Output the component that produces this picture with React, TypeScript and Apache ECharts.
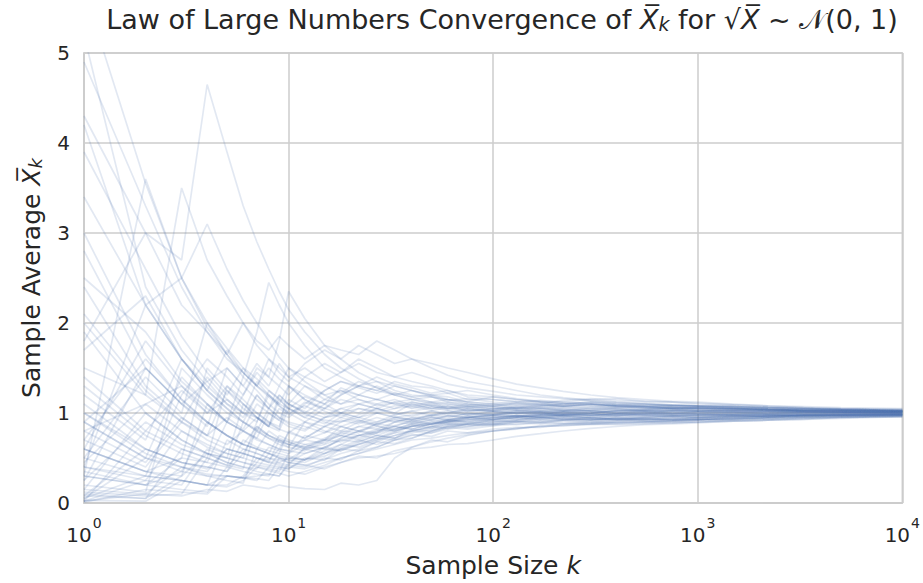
import React, { useEffect, useRef } from "react";
import * as echarts from "echarts";

const K = [1, 2, 3, 4, 5, 6, 7, 8, 9, 10, 12, 15, 18, 22, 27, 33, 40, 50, 60, 75, 100, 130, 170, 220, 300, 400, 550, 750, 1000, 1500, 2200, 3300, 5000, 10000];

const run01 = [5.7, 3.55, 2.5, 2.0, 1.72, 1.5, 1.38, 1.25, 1.16, 1.1, 1.02, 0.95, 0.98, 0.92, 0.88, 0.93, 0.9, 0.95, 0.92, 0.97, 0.95, 0.97, 0.95, 0.96, 0.94, 0.93, 0.92, 0.93, 0.93, 0.94, 0.95, 0.96, 0.96, 0.97];
const run02 = [5.2, 2.4, 1.7, 1.35, 1.5, 1.3, 1.15, 1.05, 1.2, 1.1, 1.0, 0.9, 0.85, 0.92, 0.86, 0.8, 0.85, 0.88, 0.92, 0.9, 0.94, 0.97, 0.95, 0.98, 0.97, 0.99, 1.02, 1.03, 1.05, 1.04, 1.04, 1.03, 1.03, 1.02];
const run03 = [4.3, 3.0, 2.7, 4.65, 3.9, 3.3, 2.9, 2.6, 2.35, 2.15, 1.9, 1.65, 1.5, 1.38, 1.28, 1.2, 1.15, 1.12, 1.1, 1.08, 1.05, 1.06, 1.08, 1.1, 1.12, 1.11, 1.1, 1.09, 1.08, 1.06, 1.05, 1.05, 1.04, 1.03];
const run04 = [4.9, 3.3, 2.4, 1.9, 1.6, 1.45, 1.3, 1.5, 1.38, 1.3, 1.15, 1.02, 0.95, 1.05, 1.0, 0.95, 0.98, 1.02, 1.0, 1.05, 1.02, 1.0, 1.01, 0.96, 0.94, 0.93, 0.91, 0.9, 0.9, 0.92, 0.93, 0.94, 0.95, 0.96];
const run05 = [4.2, 2.2, 2.5, 3.1, 2.6, 2.25, 2.0, 1.8, 1.62, 1.5, 1.35, 1.2, 1.25, 1.15, 1.1, 1.05, 1.08, 1.03, 1.06, 1.02, 1.04, 1.08, 1.1, 1.14, 1.16, 1.14, 1.13, 1.12, 1.1, 1.09, 1.07, 1.06, 1.05, 1.04];
const run06 = [2.0, 1.2, 0.9, 0.75, 0.65, 0.8, 0.72, 0.65, 0.6, 0.58, 0.55, 0.62, 0.7, 0.75, 0.78, 0.82, 0.86, 0.9, 0.88, 0.92, 0.95, 0.93, 0.96, 0.92, 0.9, 0.91, 0.93, 0.94, 0.95, 0.96, 0.97, 0.97, 0.98, 0.98];
const run07 = [0.3, 3.6, 2.5, 1.95, 1.65, 1.45, 1.3, 1.2, 1.1, 1.05, 0.98, 0.92, 0.9, 0.95, 1.0, 0.96, 0.93, 0.97, 1.0, 0.98, 1.02, 1.06, 1.09, 1.08, 1.1, 1.08, 1.06, 1.05, 1.04, 1.03, 1.03, 1.02, 1.01, 1.01];
const run08 = [1.5, 1.2, 3.5, 2.7, 2.3, 2.0, 1.75, 1.6, 1.5, 1.4, 1.3, 1.2, 1.1, 1.15, 1.08, 1.12, 1.06, 1.1, 1.05, 1.07, 1.04, 1.06, 1.03, 1.05, 1.02, 1.0, 0.98, 0.97, 0.98, 0.98, 0.97, 0.98, 0.99, 0.99];
const run09 = [0.8, 1.1, 1.3, 1.05, 0.9, 1.4, 1.9, 2.45, 2.2, 2.0, 1.75, 1.5, 1.4, 1.3, 1.35, 1.25, 1.2, 1.18, 1.15, 1.12, 1.1, 1.08, 1.06, 1.07, 1.09, 1.07, 1.06, 1.05, 1.06, 1.05, 1.04, 1.03, 1.03, 1.02];
const run10 = [0.5, 0.3, 1.2, 1.6, 1.4, 1.2, 1.5, 1.4, 1.8, 2.35, 2.05, 1.75, 1.6, 1.45, 1.35, 1.3, 1.25, 1.2, 1.18, 1.12, 1.1, 1.12, 1.14, 1.12, 1.15, 1.16, 1.13, 1.12, 1.11, 1.09, 1.08, 1.06, 1.05, 1.04];
const run11 = [0.02, 0.1, 0.08, 0.15, 0.13, 0.2, 0.18, 0.16, 0.2, 0.18, 0.16, 0.15, 0.22, 0.2, 0.25, 0.5, 0.62, 0.7, 0.68, 0.75, 0.8, 0.83, 0.85, 0.86, 0.87, 0.88, 0.89, 0.89, 0.9, 0.91, 0.92, 0.94, 0.95, 0.96];
const run12 = [0.05, 0.5, 0.4, 0.35, 0.6, 0.55, 0.5, 0.45, 0.42, 0.4, 0.38, 0.45, 0.5, 0.55, 0.62, 0.7, 0.75, 0.78, 0.82, 0.85, 0.9, 0.92, 0.95, 0.94, 0.92, 0.93, 0.95, 0.96, 0.97, 0.98, 0.99, 1.0, 1.0, 1.0];
const run13 = [0.1, 0.05, 0.6, 0.5, 0.42, 0.9, 0.8, 0.72, 0.68, 0.65, 0.7, 0.78, 0.85, 0.8, 0.88, 0.92, 0.9, 0.95, 0.92, 0.96, 0.93, 0.95, 0.97, 0.98, 1.0, 1.03, 1.04, 1.06, 1.06, 1.05, 1.04, 1.03, 1.03, 1.02];
const run14 = [0.9, 0.5, 0.35, 0.9, 0.75, 0.65, 0.6, 0.55, 0.75, 0.7, 0.65, 0.6, 0.72, 0.8, 0.75, 0.82, 0.88, 0.85, 0.9, 0.93, 0.9, 0.94, 0.92, 0.91, 0.9, 0.89, 0.9, 0.91, 0.92, 0.93, 0.94, 0.95, 0.96, 0.97];
const run15 = [1.2, 0.7, 1.6, 1.25, 1.05, 0.9, 1.2, 1.05, 0.95, 0.9, 0.85, 0.78, 0.9, 0.98, 1.05, 1.0, 1.1, 1.05, 1.08, 1.02, 1.05, 1.03, 1.01, 1.02, 1.04, 1.06, 1.07, 1.06, 1.05, 1.05, 1.04, 1.03, 1.02, 1.02];
const run16 = [0.3, 0.2, 0.15, 0.12, 0.4, 0.35, 0.32, 0.3, 0.5, 0.48, 0.45, 0.55, 0.6, 0.68, 0.75, 0.72, 0.8, 0.85, 0.9, 0.88, 0.92, 0.96, 0.94, 0.97, 0.99, 0.97, 0.98, 1.0, 0.99, 0.98, 0.99, 0.99, 1.0, 1.0];
const run17 = [0.6, 1.8, 1.3, 1.0, 1.3, 1.1, 0.95, 0.85, 1.15, 1.05, 0.95, 1.1, 1.0, 0.95, 0.9, 0.98, 1.02, 0.97, 1.0, 1.04, 1.02, 1.0, 1.01, 0.99, 1.0, 1.02, 1.03, 1.02, 1.02, 1.03, 1.02, 1.01, 1.01, 1.01];
const run18 = [2.8, 1.5, 1.1, 0.9, 0.75, 0.65, 0.6, 0.8, 0.72, 0.68, 0.6, 0.55, 0.65, 0.75, 0.8, 0.85, 0.82, 0.88, 0.92, 0.95, 0.98, 0.96, 0.99, 0.97, 0.95, 0.94, 0.93, 0.92, 0.93, 0.94, 0.95, 0.96, 0.97, 0.98];
const run19 = [0.15, 1.0, 0.7, 0.55, 0.5, 1.1, 1.0, 0.9, 0.82, 1.3, 1.2, 1.1, 1.2, 1.3, 1.25, 1.2, 1.15, 1.18, 1.12, 1.1, 1.08, 1.1, 1.08, 1.1, 1.12, 1.1, 1.09, 1.08, 1.08, 1.07, 1.06, 1.05, 1.04, 1.03];
const run20 = [0.4, 0.25, 0.2, 0.6, 0.5, 0.45, 0.4, 0.38, 0.35, 0.55, 0.65, 0.7, 0.75, 0.7, 0.78, 0.85, 0.82, 0.88, 0.9, 0.92, 0.95, 0.97, 0.96, 0.98, 0.97, 0.99, 0.98, 1.0, 1.02, 1.03, 1.03, 1.02, 1.02, 1.01];
const run21 = [3.4, 2.2, 1.6, 1.3, 1.1, 1.0, 0.95, 0.88, 0.82, 0.78, 0.9, 0.85, 0.92, 0.88, 0.95, 0.9, 0.94, 0.98, 0.96, 0.99, 0.97, 1.0, 0.98, 1.01, 0.97, 0.96, 0.97, 0.96, 0.95, 0.96, 0.97, 0.98, 0.98, 0.99];
const run22 = [0.7, 0.4, 0.9, 0.7, 0.6, 0.55, 0.8, 0.72, 0.65, 0.62, 0.58, 0.68, 0.75, 0.72, 0.8, 0.86, 0.9, 0.87, 0.92, 0.9, 0.93, 0.95, 0.98, 0.97, 0.95, 0.97, 0.99, 0.98, 0.99, 1.0, 1.01, 1.0, 1.01, 1.0];
const run23 = [0.02, 0.8, 0.6, 0.5, 1.3, 1.15, 1.0, 0.9, 0.85, 1.1, 1.0, 1.15, 1.1, 1.2, 1.15, 1.1, 1.12, 1.08, 1.1, 1.06, 1.08, 1.05, 1.07, 1.08, 1.1, 1.09, 1.1, 1.08, 1.08, 1.07, 1.06, 1.04, 1.04, 1.03];
const run24 = [1.0, 0.55, 0.4, 0.32, 0.3, 0.28, 0.45, 0.42, 0.4, 0.38, 0.48, 0.55, 0.62, 0.7, 0.65, 0.72, 0.78, 0.82, 0.86, 0.9, 0.88, 0.92, 0.95, 0.94, 0.92, 0.94, 0.93, 0.94, 0.93, 0.95, 0.96, 0.97, 0.97, 0.98];
const run25 = [0.2, 0.12, 1.5, 1.2, 1.0, 0.9, 0.8, 1.05, 0.95, 0.88, 0.82, 0.95, 1.05, 1.0, 1.1, 1.15, 1.08, 1.12, 1.06, 1.1, 1.07, 1.05, 1.06, 1.04, 1.03, 1.05, 1.03, 1.04, 1.02, 1.01, 1.0, 1.01, 1.0, 1.0];
const run26 = [1.7, 2.3, 1.6, 1.25, 1.05, 0.9, 0.82, 0.75, 0.7, 0.65, 0.62, 0.7, 0.78, 0.85, 0.82, 0.9, 0.95, 0.92, 0.97, 0.95, 0.98, 1.0, 0.99, 1.01, 1.0, 0.98, 0.99, 1.02, 1.03, 1.02, 1.01, 1.02, 1.01, 1.01];
const run27 = [0.05, 0.3, 0.25, 0.2, 0.2, 0.3, 0.5, 0.45, 0.7, 0.65, 0.6, 0.7, 0.68, 0.75, 0.82, 0.8, 0.85, 0.9, 0.93, 0.95, 0.97, 0.96, 0.98, 0.99, 0.98, 0.99, 1.0, 0.98, 0.97, 0.98, 0.98, 0.97, 0.98, 0.99];
const run28 = [0.5, 1.4, 1.0, 2.0, 1.65, 1.4, 1.25, 1.1, 1.0, 0.95, 1.1, 1.25, 1.35, 1.28, 1.22, 1.3, 1.25, 1.2, 1.22, 1.15, 1.15, 1.13, 1.12, 1.1, 1.12, 1.1, 1.08, 1.09, 1.08, 1.07, 1.06, 1.05, 1.04, 1.03];
const run29 = [0.35, 0.2, 0.35, 0.3, 0.3, 0.28, 0.3, 0.32, 0.3, 0.42, 0.4, 0.5, 0.48, 0.58, 0.62, 0.7, 0.72, 0.8, 0.85, 0.88, 0.9, 0.91, 0.9, 0.92, 0.93, 0.92, 0.94, 0.93, 0.94, 0.96, 0.96, 0.97, 0.98, 0.98];
const run30 = [2.4, 1.3, 0.95, 0.75, 0.95, 0.82, 1.1, 1.0, 0.92, 0.85, 0.8, 0.95, 1.0, 1.05, 1.02, 1.08, 1.1, 1.05, 1.08, 1.04, 1.02, 1.03, 1.01, 1.02, 1.0, 1.02, 1.01, 1.03, 1.02, 1.03, 1.02, 1.01, 1.01, 1.0];
const run31 = [0.08, 0.6, 0.45, 0.4, 0.35, 0.7, 0.62, 0.58, 0.55, 0.8, 0.72, 0.85, 0.95, 0.9, 1.0, 1.05, 1.12, 1.08, 1.05, 1.08, 1.06, 1.04, 1.05, 1.03, 1.03, 1.04, 1.02, 1.0, 0.99, 0.97, 0.96, 0.97, 0.97, 0.98];
const run32 = [1.3, 0.75, 0.55, 0.45, 0.4, 0.6, 0.55, 0.5, 0.48, 0.45, 0.42, 0.48, 0.55, 0.6, 0.68, 0.75, 0.8, 0.85, 0.83, 0.88, 0.92, 0.9, 0.94, 0.93, 0.92, 0.94, 0.95, 0.96, 0.95, 0.97, 0.96, 0.98, 0.98, 0.99];
const run33 = [0.6, 0.35, 0.5, 1.5, 1.25, 1.1, 0.95, 0.85, 1.2, 1.1, 1.3, 1.15, 1.25, 1.2, 1.3, 1.22, 1.18, 1.2, 1.15, 1.13, 1.18, 1.15, 1.12, 1.1, 1.08, 1.09, 1.07, 1.06, 1.06, 1.05, 1.04, 1.03, 1.03, 1.02];
const run34 = [0.25, 0.9, 0.65, 0.55, 0.45, 0.4, 0.38, 0.55, 0.5, 0.48, 0.6, 0.65, 0.72, 0.8, 0.85, 0.82, 0.88, 0.92, 0.9, 0.95, 0.93, 0.97, 0.96, 0.98, 0.99, 0.97, 1.0, 0.99, 1.01, 1.02, 1.02, 1.01, 1.02, 1.01];
const run35 = [3.9, 2.6, 1.85, 1.45, 1.2, 1.5, 1.3, 1.18, 1.08, 1.0, 1.08, 0.98, 1.05, 1.1, 1.15, 1.1, 1.05, 1.08, 1.04, 1.06, 1.03, 1.04, 1.02, 1.03, 1.02, 1.03, 1.02, 1.0, 0.98, 0.99, 0.98, 0.99, 1.0, 1.0];
const run36 = [0.12, 0.08, 0.1, 0.5, 0.42, 0.38, 0.85, 0.75, 0.68, 0.62, 0.9, 0.8, 0.75, 0.85, 0.9, 0.95, 0.92, 0.98, 1.02, 0.98, 1.0, 1.02, 0.99, 1.01, 1.0, 1.02, 1.04, 1.05, 1.06, 1.05, 1.04, 1.03, 1.03, 1.02];
const run37 = [0.45, 1.1, 0.8, 0.62, 0.55, 0.5, 0.9, 1.2, 1.08, 1.0, 0.9, 1.05, 1.15, 1.1, 1.05, 0.98, 1.02, 1.06, 1.03, 1.0, 0.98, 1.01, 1.03, 1.02, 1.02, 1.0, 1.03, 1.02, 1.0, 1.01, 0.99, 0.98, 0.99, 0.99];
const run38 = [1.0, 0.6, 0.45, 0.38, 0.6, 0.55, 0.5, 0.46, 0.44, 0.42, 0.62, 0.6, 0.58, 0.65, 0.72, 0.78, 0.8, 0.84, 0.88, 0.87, 0.86, 0.88, 0.9, 0.89, 0.88, 0.87, 0.88, 0.89, 0.9, 0.91, 0.92, 0.93, 0.95, 0.96];
const run39 = [0.03, 0.02, 0.25, 0.2, 0.7, 0.6, 0.55, 0.5, 0.45, 0.5, 0.48, 0.58, 0.65, 0.62, 0.7, 0.78, 0.85, 0.88, 0.9, 0.94, 0.96, 0.95, 0.97, 0.99, 0.98, 1.0, 1.01, 0.99, 1.0, 1.01, 1.02, 1.01, 1.01, 1.01];
const run40 = [2.1, 1.25, 0.9, 1.4, 1.15, 1.0, 1.35, 1.2, 1.1, 1.3, 1.15, 1.05, 1.0, 1.1, 1.05, 1.12, 1.15, 1.1, 1.12, 1.08, 1.1, 1.06, 1.05, 1.06, 1.05, 1.04, 1.03, 1.04, 1.02, 1.01, 1.01, 1.02, 1.01, 1.01];
const run41 = [1.8, 3.0, 2.2, 1.9, 1.65, 2.0, 1.8, 1.7, 1.85, 1.75, 1.6, 1.75, 1.7, 1.65, 1.8, 1.7, 1.6, 1.55, 1.5, 1.45, 1.38, 1.32, 1.28, 1.24, 1.2, 1.17, 1.15, 1.13, 1.12, 1.1, 1.08, 1.07, 1.06, 1.05];
const run42 = [0.9, 1.5, 1.1, 0.85, 1.5, 1.3, 1.55, 1.4, 1.3, 1.5, 1.4, 1.55, 1.45, 1.6, 1.5, 1.4, 1.45, 1.38, 1.32, 1.28, 1.24, 1.2, 1.18, 1.16, 1.14, 1.12, 1.11, 1.09, 1.08, 1.07, 1.06, 1.05, 1.04, 1.03];
const run43 = [0.01, 0.15, 0.12, 0.1, 0.3, 0.28, 0.25, 0.4, 0.38, 0.35, 0.32, 0.4, 0.45, 0.5, 0.52, 0.55, 0.6, 0.62, 0.65, 0.66, 0.7, 0.74, 0.77, 0.8, 0.83, 0.85, 0.87, 0.88, 0.89, 0.91, 0.92, 0.93, 0.94, 0.96];
const run44 = [0.6, 0.35, 0.25, 0.2, 0.18, 0.25, 0.4, 0.36, 0.33, 0.3, 0.35, 0.42, 0.5, 0.55, 0.6, 0.65, 0.7, 0.72, 0.75, 0.78, 0.8, 0.83, 0.85, 0.86, 0.88, 0.89, 0.9, 0.91, 0.92, 0.93, 0.94, 0.95, 0.96, 0.97];
const run45 = [0.9, 0.5, 1.4, 1.1, 0.9, 1.2, 1.45, 1.3, 1.55, 1.4, 1.5, 1.35, 1.45, 1.55, 1.45, 1.4, 1.35, 1.3, 1.25, 1.2, 1.18, 1.15, 1.13, 1.11, 1.1, 1.08, 1.07, 1.05, 1.04, 1.03, 1.03, 1.02, 1.02, 1.01];
const run46 = [0.3, 0.2, 0.5, 0.45, 0.9, 0.8, 0.72, 1.0, 0.92, 1.15, 1.05, 1.25, 1.35, 1.3, 1.4, 1.32, 1.28, 1.22, 1.25, 1.18, 1.15, 1.12, 1.1, 1.08, 1.1, 1.08, 1.07, 1.06, 1.06, 1.05, 1.04, 1.03, 1.03, 1.02];
const run47 = [1.1, 0.6, 0.45, 0.4, 0.35, 0.55, 0.5, 0.48, 0.6, 0.58, 0.7, 0.66, 0.78, 0.75, 0.72, 0.8, 0.86, 0.83, 0.88, 0.86, 0.88, 0.87, 0.89, 0.88, 0.89, 0.9, 0.9, 0.91, 0.92, 0.93, 0.94, 0.95, 0.96, 0.97];
const run48 = [0.7, 1.6, 1.15, 0.9, 0.75, 0.65, 0.85, 0.75, 0.7, 0.68, 0.62, 0.72, 0.8, 0.78, 0.88, 0.85, 0.92, 0.96, 0.94, 1.0, 0.98, 1.02, 1.05, 1.03, 1.06, 1.08, 1.07, 1.08, 1.07, 1.07, 1.06, 1.05, 1.04, 1.03];
const run49 = [0.02, 0.25, 0.8, 0.65, 0.55, 0.5, 0.45, 0.62, 0.58, 0.55, 0.75, 0.7, 0.85, 0.8, 0.78, 0.9, 0.88, 0.93, 0.97, 0.95, 0.99, 0.97, 1.0, 0.98, 0.97, 0.99, 0.98, 0.97, 0.98, 0.99, 1.0, 1.01, 1.01, 1.01];
const run50 = [2.5, 1.9, 1.35, 1.1, 0.9, 0.8, 0.95, 0.85, 1.05, 0.98, 1.12, 1.05, 1.2, 1.3, 1.25, 1.35, 1.3, 1.28, 1.22, 1.25, 1.2, 1.16, 1.13, 1.12, 1.1, 1.08, 1.08, 1.06, 1.05, 1.05, 1.04, 1.03, 1.03, 1.02];
const run51 = [0.15, 0.1, 0.4, 0.3, 0.25, 0.22, 0.6, 0.55, 0.5, 0.45, 0.55, 0.62, 0.58, 0.66, 0.72, 0.7, 0.76, 0.74, 0.8, 0.78, 0.82, 0.84, 0.84, 0.87, 0.88, 0.9, 0.91, 0.92, 0.93, 0.94, 0.95, 0.96, 0.97, 0.98];
const run52 = [1.4, 0.8, 1.25, 1.0, 1.15, 1.0, 0.9, 1.25, 1.15, 1.05, 1.18, 1.1, 1.28, 1.2, 1.15, 1.22, 1.18, 1.12, 1.15, 1.1, 1.08, 1.11, 1.09, 1.07, 1.05, 1.06, 1.05, 1.04, 1.03, 1.04, 1.03, 1.02, 1.02, 1.01];
const run53 = [0.4, 0.3, 0.25, 0.2, 0.3, 0.28, 0.27, 0.25, 0.4, 0.38, 0.5, 0.48, 0.6, 0.58, 0.68, 0.66, 0.72, 0.8, 0.84, 0.82, 0.86, 0.9, 0.88, 0.92, 0.94, 0.93, 0.94, 0.93, 0.95, 0.96, 0.96, 0.97, 0.98, 0.98];
const run54 = [0.8, 0.45, 0.95, 0.75, 1.25, 1.05, 0.95, 0.85, 0.8, 1.05, 0.95, 0.88, 1.0, 0.95, 1.05, 1.0, 0.96, 1.02, 0.98, 1.03, 1.01, 0.99, 1.02, 1.0, 1.02, 1.01, 1.0, 1.02, 1.01, 1.0, 0.99, 1.0, 1.0, 1.0];
const run55 = [0.6, 0.35, 0.3, 1.1, 0.9, 0.8, 0.7, 0.65, 0.6, 0.78, 0.72, 0.85, 0.8, 0.9, 0.86, 0.95, 0.92, 0.88, 0.91, 0.94, 0.92, 0.95, 0.93, 0.96, 0.95, 0.97, 0.96, 0.98, 0.97, 0.98, 0.98, 0.99, 0.98, 0.99];
const run56 = [1.9, 1.0, 0.7, 0.55, 0.5, 0.45, 0.42, 0.4, 0.55, 0.52, 0.48, 0.62, 0.7, 0.68, 0.75, 0.72, 0.82, 0.8, 0.86, 0.84, 0.88, 0.91, 0.9, 0.93, 0.95, 0.94, 0.96, 0.97, 0.96, 0.97, 0.98, 0.98, 0.99, 0.99];
const run57 = [0.25, 1.5, 1.1, 1.35, 1.1, 0.95, 1.2, 1.05, 1.3, 1.2, 1.4, 1.3, 1.22, 1.35, 1.28, 1.2, 1.25, 1.18, 1.14, 1.16, 1.12, 1.1, 1.11, 1.08, 1.07, 1.06, 1.05, 1.06, 1.05, 1.04, 1.03, 1.04, 1.03, 1.02];
const run58 = [3.0, 1.65, 1.15, 0.9, 0.75, 0.65, 0.6, 0.55, 0.52, 0.5, 0.48, 0.52, 0.6, 0.65, 0.7, 0.75, 0.8, 0.78, 0.84, 0.88, 0.87, 0.9, 0.92, 0.94, 0.93, 0.95, 0.94, 0.96, 0.95, 0.96, 0.97, 0.97, 0.98, 0.98];
const run59 = [0.4, 2.2, 1.6, 1.25, 1.7, 1.45, 1.3, 1.6, 1.45, 1.35, 1.55, 1.7, 1.6, 1.75, 1.65, 1.55, 1.6, 1.5, 1.42, 1.35, 1.3, 1.25, 1.2, 1.17, 1.14, 1.12, 1.1, 1.08, 1.07, 1.06, 1.05, 1.04, 1.03, 1.02];
const run60 = [0.08, 0.05, 0.3, 0.55, 0.45, 0.4, 0.35, 0.32, 0.3, 0.45, 0.42, 0.38, 0.45, 0.52, 0.5, 0.58, 0.62, 0.68, 0.72, 0.76, 0.8, 0.82, 0.86, 0.88, 0.9, 0.92, 0.93, 0.92, 0.93, 0.94, 0.96, 0.97, 0.97, 0.98];

const runs = [
  run01, run02, run03, run04, run05, run06, run07, run08, run09, run10,
  run11, run12, run13, run14, run15, run16, run17, run18, run19, run20,
  run21, run22, run23, run24, run25, run26, run27, run28, run29, run30,
  run31, run32, run33, run34, run35, run36, run37, run38, run39, run40,
  run41, run42, run43, run44, run45, run46, run47, run48, run49, run50,
  run51, run52, run53, run54, run55, run56, run57, run58, run59, run60,
];

const yTicks = [0, 1, 2, 3, 4, 5];

const FONT = "DejaVu Sans";
const TEXT = "#262626";
const GRIDC = "#cccccc";
const LINEC = "#4c72b0";
const XBAR = "X\u0305";

export default function App() {
  const ref = useRef<HTMLDivElement>(null);
  useEffect(() => {
    if (!ref.current) return;
    const chart = echarts.init(ref.current, null, { renderer: "svg" });
    const series = runs.map((r, idx) => ({
      name: "run" + (idx + 1),
      type: "line",
      data: K.map((k, i) => [k, r[i]]),
      symbol: "none",
      showSymbol: false,
      silent: true,
      clip: true,
      lineStyle: { color: LINEC, width: 1.7, opacity: 0.16 },
      emphasis: { disabled: true },
    }));
    chart.setOption({
      animation: false,
      backgroundColor: "#ffffff",
      title: {
        text:
          "{t|Law of Large Numbers Convergence of }{x|" + XBAR + "}{s|k}{t| for \u221A}{x|" + XBAR + "}{t| ~ }{n|\u{1D4A9}}{t|(0, 1)}",
        left: 497,
        textAlign: "center",
        top: 1,
        textStyle: {
          fontFamily: FONT,
          fontSize: 27,
          color: TEXT,
          fontWeight: "normal",
          rich: {
            t: { fontFamily: FONT, fontSize: 27, color: TEXT, verticalAlign: "bottom" },
            x: { fontFamily: FONT, fontSize: 27, color: TEXT, fontStyle: "italic", verticalAlign: "bottom" },
            n: { fontFamily: FONT, fontSize: 27, color: TEXT, verticalAlign: "bottom" },
            s: { fontFamily: FONT, fontSize: 19, color: TEXT, fontStyle: "italic", verticalAlign: "bottom" },
          },
        },
      },
      grid: {
        left: 84,
        right: 20,
        top: 53,
        bottom: 80,
        show: true,
        borderColor: GRIDC,
        borderWidth: 1.5,
        containLabel: false,
      },
      xAxis: {
        type: "log",
        logBase: 10,
        min: 1,
        max: 10000,
        splitNumber: 4,
        axisLine: { show: true, lineStyle: { color: GRIDC, width: 1.5 } },
        axisTick: { show: false },
        splitLine: { show: true, lineStyle: { color: GRIDC, width: 1.5 } },
        axisLabel: {
          margin: 13,
          formatter: (v: number) => "{b|10}{e|" + Math.round(Math.log10(v)) + "}",
          rich: {
            b: { fontFamily: FONT, fontSize: 20, color: TEXT, verticalAlign: "bottom" },
            e: { fontFamily: FONT, fontSize: 14, color: TEXT, verticalAlign: "bottom", padding: [0, 0, 15, 1] },
          },
        },
        name: "{t|Sample Size }{i|k}",
        nameLocation: "middle",
        nameGap: 50,
        nameTextStyle: {
          rich: {
            t: { fontFamily: FONT, fontSize: 25, color: TEXT },
            i: { fontFamily: FONT, fontSize: 25, color: TEXT, fontStyle: "italic" },
          },
        },
      },
      yAxis: {
        type: "value",
        min: 0,
        max: 5,
        interval: 1,
        axisLine: { show: true, lineStyle: { color: GRIDC, width: 1.5 } },
        axisTick: { show: false },
        splitLine: { show: true, lineStyle: { color: GRIDC, width: 1.5 } },
        axisLabel: {
          margin: 14,
          fontFamily: FONT,
          fontSize: 20,
          color: TEXT,
          formatter: (v: number) => (yTicks.includes(v) ? String(v) : ""),
        },
        name: "{t|Sample Average }{x|" + XBAR + "}{s|k}",
        nameLocation: "middle",
        nameRotate: 90,
        nameGap: 40,
        nameTextStyle: {
          rich: {
            t: { fontFamily: FONT, fontSize: 25, color: TEXT, verticalAlign: "bottom" },
            x: { fontFamily: FONT, fontSize: 25, color: TEXT, fontStyle: "italic", verticalAlign: "bottom" },
            s: { fontFamily: FONT, fontSize: 18, color: TEXT, fontStyle: "italic", verticalAlign: "bottom" },
          },
        },
      },
      series,
    });
    return () => chart.dispose();
  }, []);
  return (
    <div
      ref={ref}
      style={{ position: "fixed", left: 0, top: 0, width: 923, height: 583, background: "#fff" }}
    />
  );
}
